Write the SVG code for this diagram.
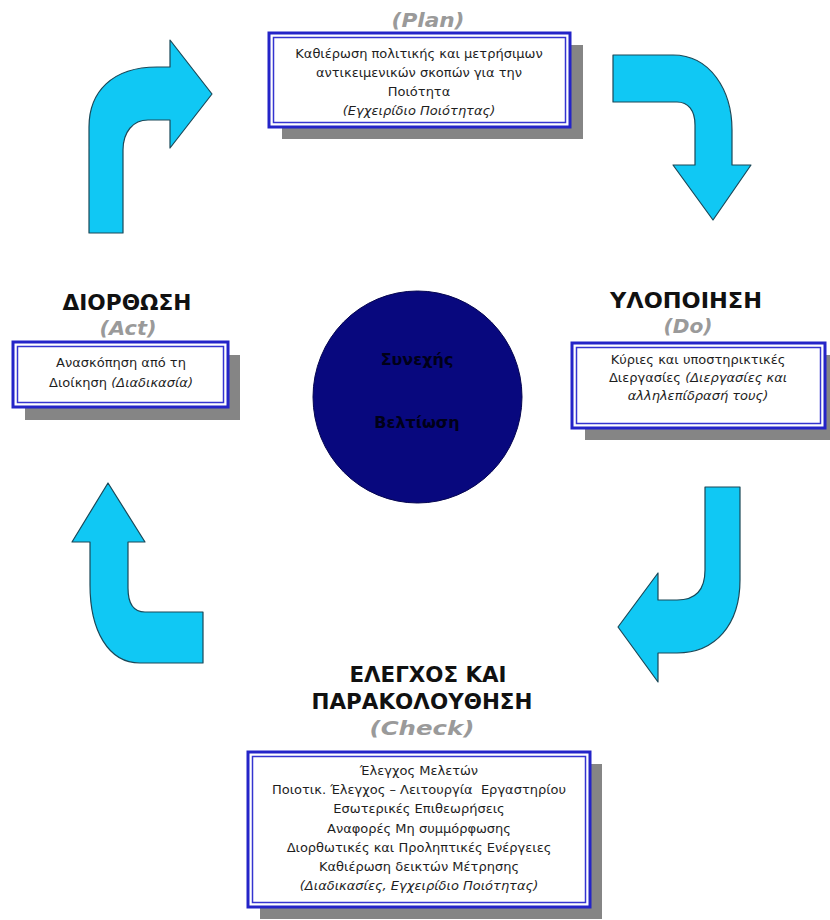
<svg xmlns="http://www.w3.org/2000/svg" width="830" height="920" viewBox="0 0 830 920">
<style>
.shadow{fill:#858585}
.outer{fill:#fff;stroke:#2424c8;stroke-width:3}
.inner{fill:none;stroke:#3434d0;stroke-width:1.5}
.txt{font-family:"DejaVu Sans",Verdana,sans-serif;font-size:13px;fill:#1e1e1e;text-anchor:middle}
.it{font-style:italic}
.head{font-family:"DejaVu Sans",Verdana,sans-serif;font-size:21px;font-weight:bold;fill:#111;text-anchor:middle}
.sub{font-family:"DejaVu Sans",Verdana,sans-serif;font-size:20px;font-weight:bold;font-style:italic;fill:#9a9a9a;text-anchor:middle}
.arrow{fill:#10c8f4;stroke:#1a4858;stroke-width:1.2;stroke-linejoin:round}
.ctext{font-family:"DejaVu Sans",Verdana,sans-serif;font-size:16px;font-weight:bold;fill:#000018;text-anchor:middle}
</style>
<rect width="830" height="920" fill="#fff"/>

<g id="connectors">
<path class="arrow" d="M89,233 L89,127 C89,92 112,67 157,67 L170,67 L170,40 L212,94 L170,148 L170,120 L148,120 C133,120 123,132 123,150 L123,233 Z"/>
<path class="arrow" d="M613,55 L673,55 C710,55 732,90 732,130 L732,165 L751,165 L713,220 L673,165 L695,165 L695,125 C695,110 688,102 677,102 L613,102 Z"/>
<path class="arrow" d="M705,487 L740,487 L740,580 C740,625 715,653 677,653 L658,653 L658,682 L618,627 L658,573 L658,600 L677,600 C695,600 705,590 705,570 Z"/>
<path class="arrow" d="M108,483 L145,542 L128,542 L128,588 C128,604 134,612 145,612 L203,612 L203,663 L140,663 C108,663 90,630 90,585 L90,542 L72,542 Z"/>
</g>

<g id="plan">
<text class="sub" x="428" y="27" textLength="73" lengthAdjust="spacingAndGlyphs">(Plan)</text>
<rect class="shadow" x="282" y="45" width="301" height="94"/>
<rect class="outer" x="269" y="33" width="301" height="94"/>
<rect class="inner" x="273.5" y="37.5" width="292" height="85"/>
<text class="txt" x="419" y="58">Καθιέρωση πολιτικής και μετρήσιμων</text>
<text class="txt" x="419" y="77">αντικειμενικών σκοπών για την</text>
<text class="txt" x="419" y="96">Ποιότητα</text>
<text class="txt it" x="419" y="115">(Εγχειρίδιο Ποιότητας)</text>
</g>

<g id="do">
<text class="head" x="686" y="308" textLength="152" lengthAdjust="spacingAndGlyphs">ΥΛΟΠΟΙΗΣΗ</text>
<text class="sub" x="688" y="333" textLength="49" lengthAdjust="spacingAndGlyphs">(Do)</text>
<rect class="shadow" x="585" y="355" width="253" height="85"/>
<rect class="outer" x="572" y="343" width="253" height="85"/>
<rect class="inner" x="576.5" y="347.5" width="244" height="76"/>
<text class="txt" x="698" y="364">Κύριες και υποστηρικτικές</text>
<text class="txt" x="698" y="382">Διεργασίες <tspan class="it">(Διεργασίες και</tspan></text>
<text class="txt it" x="698" y="400">αλληλεπίδρασή τους)</text>
</g>

<g id="act">
<text class="head" x="127" y="310" textLength="129" lengthAdjust="spacingAndGlyphs">ΔΙΟΡΘΩΣΗ</text>
<text class="sub" x="128" y="335" textLength="57" lengthAdjust="spacingAndGlyphs">(Act)</text>
<rect class="shadow" x="25" y="355" width="215" height="65"/>
<rect class="outer" x="13" y="342" width="215" height="65"/>
<rect class="inner" x="17.5" y="346.5" width="206" height="56"/>
<text class="txt" x="121" y="367">Ανασκόπηση από τη</text>
<text class="txt" x="121" y="387">Διοίκηση <tspan class="it">(Διαδικασία)</tspan></text>
</g>

<g id="check">
<text class="head" x="428" y="682" textLength="157" lengthAdjust="spacingAndGlyphs">ΕΛΕΓΧΟΣ ΚΑΙ</text>
<text class="head" x="422" y="709" textLength="221" lengthAdjust="spacingAndGlyphs">ΠΑΡΑΚΟΛΟΥΘΗΣΗ</text>
<text class="sub" x="422" y="735" textLength="105" lengthAdjust="spacingAndGlyphs">(Check)</text>
<rect class="shadow" x="260" y="764" width="342" height="155"/>
<rect class="outer" x="248" y="752" width="342" height="155"/>
<rect class="inner" x="252.5" y="756.5" width="333" height="146"/>
<text class="txt" x="419" y="775">Έλεγχος Μελετών</text>
<text class="txt" x="419" y="794" style="white-space:pre">Ποιοτικ. Έλεγχος – Λειτουργία  Εργαστηρίου</text>
<text class="txt" x="419" y="813">Εσωτερικές Επιθεωρήσεις</text>
<text class="txt" x="419" y="833">Αναφορές Μη συμμόρφωσης</text>
<text class="txt" x="419" y="852">Διορθωτικές και Προληπτικές Ενέργειες</text>
<text class="txt" x="419" y="871">Καθιέρωση δεικτών Μέτρησης</text>
<text class="txt it" x="419" y="890">(Διαδικασίες, Εγχειρίδιο Ποιότητας)</text>
</g>

<g id="center">
<ellipse cx="417.5" cy="397" rx="104.5" ry="106" fill="#08087e" stroke="#050550" stroke-width="1"/>
<text class="ctext" x="417" y="365">Συνεχής</text>
<text class="ctext" x="417" y="428">Βελτίωση</text>
</g>
</svg>
